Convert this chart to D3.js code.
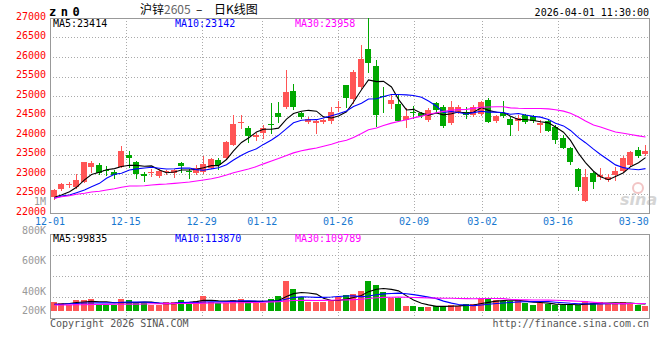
<!DOCTYPE html>
<html>
<head>
<meta charset="utf-8">
<script src="https://cdn.jsdelivr.net/npm/d3@7"></script>
<style>
  body { margin: 0; background: #fff; }
  text { font-family: "DejaVu Sans Mono", monospace; font-size: 10px; }
</style>
</head>
<body>
<div id="chart"></div>
<script>
// trading days shown on the chart
const dates = [
  "12-01","12-02","12-03","12-04","12-05","12-08","12-09","12-10","12-11","12-12",
  "12-15","12-16","12-17","12-18","12-19","12-22","12-23","12-24","12-25","12-26",
  "12-29","12-30","12-31","01-05","01-06","01-07","01-08","01-09",
  "01-12","01-13","01-14","01-15","01-16","01-19","01-20","01-21","01-22","01-23",
  "01-26","01-27","01-28","01-29","01-30","02-02","02-03","02-04","02-05","02-06",
  "02-09","02-10","02-11","02-12","02-13","02-24","02-25","02-26","02-27",
  "03-02","03-03","03-04","03-05","03-06","03-09","03-10","03-11","03-12","03-13",
  "03-16","03-17","03-18","03-19","03-20","03-23","03-24","03-25","03-26","03-27",
  "03-30","03-31","04-01"
];

const opens = [
  22400,22615,22740,22660,22800,23160,23230,23095,23060,23180,
  23485,23315,23005,23040,22960,23040,23018,23290,23077,23043,
  23060,23162,23360,23400,23745,24300,24170,23941,24044,24290,
  24570,24725,25128,24570,24325,24300,24330,24340,24700,25280,
  24940,25240,26205,25760,25000,24790,24787,24385,24580,24556,
  24385,24810,24725,24300,24597,24597,24513,24538,24900,24366,
  24572,24403,24340,24513,24487,24256,24366,24213,23930,23674,
  23120,22315,23018,22930,22846,22974,23077,23213,23615,23513
];
const highs = [
  22620,22760,22800,22990,23320,23335,23275,23200,23100,23725,
  23590,23340,23050,23130,23120,23110,23128,23315,23120,23223,
  23470,23410,23400,23840,24510,24510,24230,24060,24256,24810,
  24840,25665,25307,24600,24450,24400,24400,24725,24870,25290,
  25666,26310,26990,25925,25240,25025,25025,24685,24750,24600,
  24700,24850,24760,24880,24780,24725,24780,24880,24950,24520,
  24880,24450,24513,24550,24520,24385,24400,24256,24000,23680,
  23162,23120,23060,23145,22990,23187,23450,23590,23685,23744
];
const lows = [
  22360,22600,22675,22650,22790,23050,23000,22975,22905,23175,
  23190,22900,22830,22955,22930,23000,22915,23045,22890,22990,
  23018,23150,23136,23390,23740,24180,23830,23872,23915,24040,
  24340,24700,24660,24440,24300,24060,24300,24320,24620,24725,
  24813,25200,25625,24240,24600,24685,24350,24212,24430,24450,
  24350,24600,24200,24280,24560,24430,24480,24510,24330,24340,
  24450,24000,24128,24300,24340,24085,24100,23800,23670,23250,
  22590,22310,22650,22870,22820,22846,23040,23200,23428,23500
];
const closes = [
  22590,22745,22750,22846,23310,23275,23035,23075,22995,23590,
  23420,23020,22960,23045,23077,23065,23102,23225,23045,23162,
  23256,23385,23230,23820,24280,24325,23960,24000,24172,24275,
  24470,25110,24725,24455,24403,24360,24380,24580,24715,24940,
  25620,25950,25840,24495,24975,24895,24360,24487,24570,24490,
  24640,24640,24240,24710,24725,24513,24725,24854,24340,24487,
  24487,24240,24428,24340,24366,24315,24110,23890,23674,23315,
  22660,22930,22777,22974,22930,23077,23402,23556,23470,23598
];
const volumes = [
  330000,321000,308000,341000,341000,348000,308000,308000,308000,348000,
  341000,319000,319000,308000,308000,326000,326000,341000,326000,334000,
  367000,330000,319000,319000,341000,348000,334000,319000,319000,348000,
  367000,466000,413000,359000,330000,330000,330000,341000,359000,374000,
  380000,400000,466000,439000,395000,352000,352000,302000,302000,293000,
  297000,302000,302000,308000,302000,315000,315000,348000,348000,341000,
  334000,334000,341000,319000,308000,319000,315000,308000,308000,308000,
  308000,334000,319000,330000,315000,315000,330000,315000,308000,304000
];

// moving averages before the window fills (need days before 12-01)
const ma5Head = [22403, 22462, 22546, 22659];
const ma10Head = [22377, 22436, 22462, 22520, 22590, 22675, 22760, 22890, 22992];
const ma30Head = [
  22377,22418,22444,22480,22505,22538,22556,22590,22623,22659,
  22692,22692,22700,22718,22735,22743,22760,22777,22795,22820,
  22846,22880,22915,22974,23033,23085,23128,23190,23260
];
const volMa5Head = [313000, 314000, 318000, 325000];
const volMa10Head = [312000, 313000, 316000, 318000, 321000, 321000, 322000, 323000, 322000];
const volMa30Head = [
  308000,308000,309000,310000,310000,311000,311000,312000,313000,313000,
  314000,314000,315000,316000,316000,317000,318000,318000,319000,319000,
  320000,321000,321000,322000,323000,323000,324000,325000,326000
];

const priceTicks = [22000, 22500, 23000, 23500, 24000, 24500, 25000, 25500, 26000, 26500, 27000];
const volTicks = [200000, 400000, 600000, 800000];
const dateTicks = ["12-01","12-15","12-29","01-12","01-26","02-09","03-02","03-16","03-30"];
const volFloor = 270000;

const priceLegend = [
  { text: "MA5:23414", color: "#000" },
  { text: "MA10:23142", color: "#0000ff" },
  { text: "MA30:23958", color: "#ff00ff" },
];
const volLegend = [
  { text: "MA5:99835", color: "#000" },
  { text: "MA10:113870", color: "#0000ff" },
  { text: "MA30:109789", color: "#ff00ff" },
];

const width = 660, height = 360;
const left = 50, right = 649;
const main = { top: 18, bottom: 213 };
const vol = { top: 234, bottom: 318 };
const upColor = "#ff5555", downColor = "#00a800";
const bodyW = 6;

const svg = d3.select("#chart").append("svg")
  .attr("width", width).attr("height", height);

const xBand = d3.scaleBand().domain(dates).range([left, right]).paddingInner(0.2).paddingOuter(0.1);
const xGrid = d3.scalePoint().domain(dates).range([left, right]);
const cx = (d) => Math.round(xBand(d) + xBand.bandwidth() / 2) + 0.5;

const y = d3.scaleLinear().domain([22000, 27000]).range([main.bottom, main.top]);
const yVol = d3.scaleLinear().domain([200000, 800000]).range([321.5, 230]);

function movingAvg(values, n, head) {
  return values.map((v, i) => i < n - 1 ? head[i] : d3.mean(values.slice(i - n + 1, i + 1)));
}

const candles = dates.map((d, i) => ({
  date: d, o: opens[i], h: highs[i], l: lows[i], c: closes[i], v: volumes[i],
  up: closes[i] >= opens[i],
}));

// grids
const grid = svg.append("g").attr("stroke", "#aaa").attr("stroke-dasharray", "1,2");
grid.selectAll(".hg").data(priceTicks.slice(1, -1)).join("line")
  .attr("x1", left).attr("x2", right)
  .attr("y1", (d) => Math.round(y(d)) + 0.5).attr("y2", (d) => Math.round(y(d)) + 0.5);
grid.selectAll(".vg").data(dateTicks.slice(1, -1)).join("line")
  .attr("x1", (d) => Math.round(xGrid(d)) + 0.5).attr("x2", (d) => Math.round(xGrid(d)) + 0.5)
  .attr("y1", main.top).attr("y2", main.bottom);
grid.selectAll(".vhg").data([1, 2, 3]).join("line")
  .attr("x1", left).attr("x2", right)
  .attr("y1", (d) => Math.round(vol.top + (vol.bottom - vol.top) * d / 4) + 0.5)
  .attr("y2", (d) => Math.round(vol.top + (vol.bottom - vol.top) * d / 4) + 0.5);
grid.selectAll(".vvg").data(dateTicks.slice(1, -1)).join("line")
  .attr("class", "vvg")
  .attr("x1", (d) => Math.round(xGrid(d)) + 0.5).attr("x2", (d) => Math.round(xGrid(d)) + 0.5)
  .attr("y1", vol.top).attr("y2", vol.bottom);

// panel borders
svg.append("rect").attr("x", left + 0.5).attr("y", main.top + 0.5)
  .attr("width", right - left).attr("height", main.bottom - main.top)
  .attr("fill", "none").attr("stroke", "#999");
svg.append("rect").attr("x", left + 0.5).attr("y", vol.top + 0.5)
  .attr("width", right - left).attr("height", vol.bottom - vol.top)
  .attr("fill", "none").attr("stroke", "#999");

// sina watermark
const logo = svg.append("g").attr("opacity", 0.4);
logo.append("circle").attr("cx", 638).attr("cy", 188).attr("r", 5)
  .attr("fill", "none").attr("stroke", "#e07070").attr("stroke-width", 2);
logo.append("text").attr("x", 620).attr("y", 205)
  .style("font-family", "'DejaVu Sans'").style("font-size", "16px")
  .style("font-weight", "bold").style("font-style", "italic")
  .attr("fill", "#999").text("sina");

// candles
const cg = svg.append("g").attr("shape-rendering", "crispEdges");
cg.selectAll("line").data(candles).join("line")
  .attr("x1", (d) => cx(d.date)).attr("x2", (d) => cx(d.date))
  .attr("y1", (d) => Math.round(y(d.h))).attr("y2", (d) => Math.round(y(d.l)) + 1)
  .attr("stroke", (d) => d.up ? upColor : downColor);
cg.selectAll("rect").data(candles).join("rect")
  .attr("x", (d) => cx(d.date) - 3.5)
  .attr("width", bodyW)
  .attr("y", (d) => Math.round(y(Math.max(d.o, d.c))))
  .attr("height", (d) => Math.max(1, Math.round(Math.abs(y(d.o) - y(d.c)))))
  .attr("fill", (d) => d.up ? upColor : downColor);

// price moving averages
const ma = [
  { values: movingAvg(closes, 5, ma5Head), color: "#000" },
  { values: movingAvg(closes, 10, ma10Head), color: "#0000ff" },
  { values: movingAvg(closes, 30, ma30Head), color: "#ff00ff" },
];
const priceLine = d3.line().x((d, i) => cx(dates[i])).y((d) => y(d));
svg.append("g").selectAll("path").data(ma).join("path")
  .attr("d", (d) => priceLine(d.values))
  .attr("fill", "none").attr("stroke", (d) => d.color).attr("stroke-width", 1.1);

// volume bars
svg.append("g").attr("shape-rendering", "crispEdges")
  .selectAll("rect").data(candles).join("rect")
  .attr("x", (d) => cx(d.date) - 3.5)
  .attr("width", bodyW)
  .attr("y", (d) => Math.round(yVol(d.v)))
  .attr("height", (d) => Math.round(yVol(volFloor)) - Math.round(yVol(d.v)))
  .attr("fill", (d) => d.up ? upColor : downColor);

const volMa = [
  { values: movingAvg(volumes, 5, volMa5Head), color: "#000" },
  { values: movingAvg(volumes, 10, volMa10Head), color: "#0000ff" },
  { values: movingAvg(volumes, 30, volMa30Head), color: "#ff00ff" },
];
const volLine = d3.line().x((d, i) => cx(dates[i])).y((d) => yVol(d));
svg.append("g").selectAll("path").data(volMa).join("path")
  .attr("d", (d) => volLine(d.values))
  .attr("fill", "none").attr("stroke", (d) => d.color).attr("stroke-width", 1.1);

// axis labels
svg.append("g").selectAll("text").data(priceTicks).join("text")
  .attr("x", 46).attr("y", (d) => y(d) + 1.5)
  .attr("text-anchor", "end").attr("fill", "#f00").text((d) => d);
svg.append("text").attr("x", 46).attr("y", 205).attr("text-anchor", "end")
  .attr("fill", "#999").text("1M");
svg.append("g").selectAll("text").data(volTicks).join("text")
  .attr("x", 46).attr("y", (d) => Math.min(yVol(d), 310) + 3.5)
  .attr("text-anchor", "end").attr("fill", "#999").text((d) => d / 1000 + "K");
svg.append("g").selectAll("text").data(dateTicks).join("text")
  .attr("x", (d) => xGrid(d)).attr("y", 224.5)
  .attr("text-anchor", "middle").attr("fill", "#1878d0").text((d) => d);

// legends
const legendX = [53, 175, 295];
svg.append("g").selectAll("text").data(priceLegend).join("text")
  .attr("x", (d, i) => legendX[i]).attr("y", 27)
  .attr("fill", (d) => d.color).text((d) => d.text);
svg.append("g").selectAll("text").data(volLegend).join("text")
  .attr("x", (d, i) => legendX[i]).attr("y", 242)
  .attr("fill", (d) => d.color).text((d) => d.text);

// header
svg.append("text").attr("x", 49).attr("y", 16)
  .style("font-size", "12px").style("font-weight", "bold").style("letter-spacing", "4.5px")
  .text("zn0");
const title = svg.append("text").attr("y", 14)
  .style("font-family", "'Noto Sans CJK SC'").style("font-size", "12px");
title.append("tspan").attr("x", 140).text("沪锌");
title.append("tspan").attr("fill", "#666").text("2605");
title.append("tspan").attr("x", 196).text("–");
title.append("tspan").attr("x", 214).text("日K线图");
svg.append("text").attr("x", right).attr("y", 15.5).attr("text-anchor", "end")
  .text("2026-04-01 11:30:00");

// footer
svg.append("text").attr("x", 50).attr("y", 327).attr("fill", "#555")
  .text("Copyright 2026 SINA.COM");
svg.append("text").attr("x", right).attr("y", 327).attr("text-anchor", "end").attr("fill", "#555")
  .text("http://finance.sina.com.cn");
</script>
</body>
</html>
